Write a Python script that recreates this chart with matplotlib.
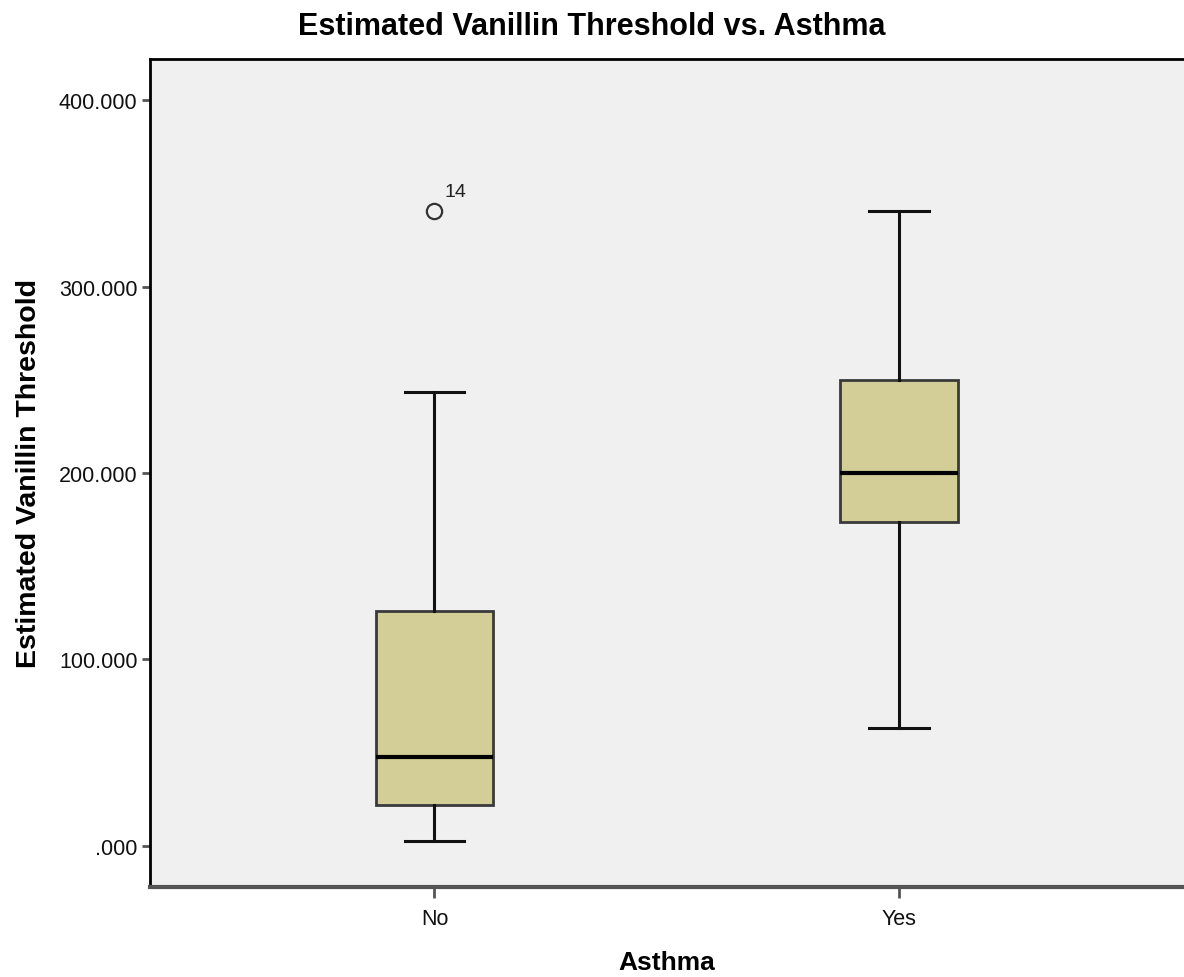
import matplotlib
matplotlib.use("Agg")
import matplotlib.pyplot as plt
from matplotlib.ticker import FixedLocator, FixedFormatter

plt.rcParams['font.family'] = ['Liberation Sans', 'DejaVu Sans']

categories = ["No", "Yes"]
q1 = [22.0, 173.7]
medians = [47.7, 200.0]
q3 = [126.0, 250.0]
whisker_low = [2.7, 63.3]
whisker_high = [243.4, 340.5]
outliers = [[340.5], []]
outlier_labels = [["14"], []]
yticks = [0, 100, 200, 300, 400]
yticklabels = [".000", "100.000", "200.000", "300.000", "400.000"]

fig = plt.figure(figsize=(11.84, 9.78), dpi=100)
ax = fig.add_axes([150/1184, 90/978, 1 - 150/1184, (888-60)/978])
ax.set_facecolor('#F0F0F0')

stats = []
for i in range(len(categories)):
    stats.append(dict(med=medians[i], q1=q1[i], q3=q3[i],
                      whislo=whisker_low[i], whishi=whisker_high[i],
                      fliers=outliers[i], label=categories[i]))

pos = list(range(len(categories)))
ax.bxp(stats, positions=pos, widths=0.254, capwidths=0.129, patch_artist=True,
       boxprops=dict(facecolor='#D3CE97', edgecolor='#3a3a3a', linewidth=2),
       medianprops=dict(color='black', linewidth=3),
       whiskerprops=dict(color='#111111', linewidth=2.2),
       capprops=dict(color='#111111', linewidth=2.2),
       flierprops=dict(marker='o', markersize=11, markerfacecolor='none',
                       markeredgecolor='#333333', markeredgewidth=1.6))

for i in range(len(categories)):
    for v, lab in zip(outliers[i], outlier_labels[i]):
        ax.annotate(lab, xy=(pos[i], v), xytext=(7, 14), textcoords='offset points',
                    ha='left', va='center', fontsize=14, color='#222222')

ax.set_xlim(-0.613, 1.615)
ax.set_ylim(-22, 422)
ax.yaxis.set_major_locator(FixedLocator(yticks))
ax.yaxis.set_major_formatter(FixedFormatter(yticklabels))
ax.set_xticks(pos)
ax.set_xticklabels(categories)

ax.tick_params(axis='y', direction='out', length=6, width=2, color='#555555',
               labelsize=15.5, labelcolor='#111111', pad=3)
ax.tick_params(axis='x', direction='out', length=8, width=2, color='#555555',
               labelsize=15.5, labelcolor='#111111', pad=7)

ax.spines['right'].set_visible(False)
ax.spines['top'].set_color('black')
ax.spines['top'].set_linewidth(2)
ax.spines['left'].set_color('black')
ax.spines['left'].set_linewidth(2)
ax.spines['bottom'].set_color('#555555')
ax.spines['bottom'].set_linewidth(3)

ax.set_ylabel("Estimated Vanillin Threshold", fontsize=20.5, fontweight='bold', labelpad=12)
ax.set_xlabel("Asthma", fontsize=19, fontweight='bold', labelpad=15)
fig.text(592/1184, 1 - 27/978, "Estimated Vanillin Threshold vs. Asthma",
         ha='center', va='center', fontsize=22, fontweight='bold')

fig.savefig("out.png", dpi=100, facecolor='white')
